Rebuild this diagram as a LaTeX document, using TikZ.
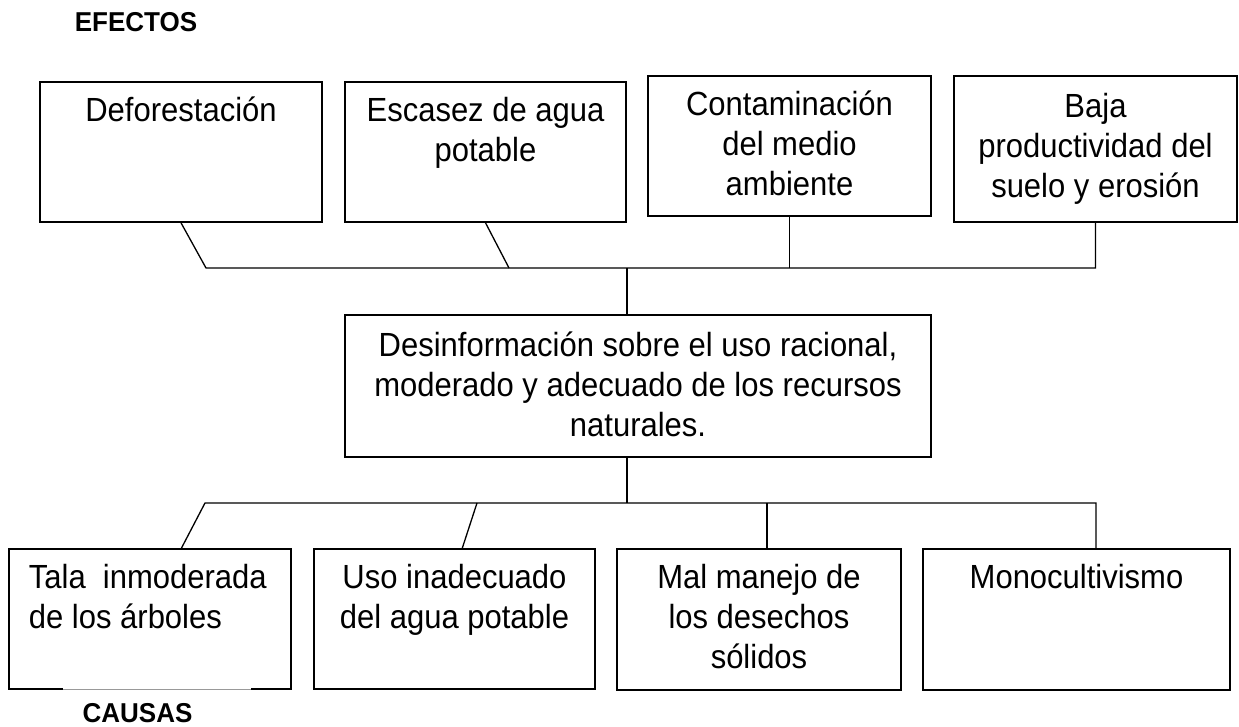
\documentclass[tikz,border=0pt]{standalone}
\usepackage{fontspec}
\usepackage{graphicx}
\setmainfont{Liberation Sans}
\usetikzlibrary{calc}
\newcommand\vtxtc[2]{\scalebox{1}[1.08]{\parbox[t]{#1}{\centering\strut #2}}}
\newcommand\vtxtl[2]{\scalebox{1}[1.08]{\parbox[t]{#1}{\raggedright\strut #2}}}
\begin{document}
\begin{tikzpicture}[x=1pt,y=-1pt,
  boxst/.style={draw=black, line width=1.6pt, inner sep=0pt},
  txt/.style={font=\fontsize{31}{37}\selectfont, inner sep=0pt, anchor=north},
  txtl/.style={font=\fontsize{31}{37}\selectfont, inner sep=0pt, anchor=north west},
  head/.style={font=\bfseries\fontsize{26}{30}\selectfont, inner sep=0pt, anchor=base},
  con/.style={line width=1.3pt, line join=miter}]
\useasboundingbox (0,0) rectangle (1239,727);

% headings
\node[head] (efectos) at (136,32) {\scalebox{1}[1.05]{EFECTOS}};
\node[head] (causas) at (137.5,722) {\scalebox{1}[1.05]{CAUSAS}};

% top boxes
\node[boxst, minimum width=282pt, minimum height=140pt] (T1) at (181,152) {};
\node[boxst, minimum width=281pt, minimum height=140pt] (T2) at (485.5,152) {};
\node[boxst, minimum width=283pt, minimum height=140pt] (T3) at (789.5,146) {};
\node[boxst, minimum width=283pt, minimum height=146pt] (T4) at (1095.5,149) {};
\node[txt] (T1t) at ($(T1.north)+(0,12.5)$) {\vtxtc{276pt}{Deforestación}};
\node[txt] (T2t) at ($(T2.north)+(0,12.5)$) {\vtxtc{276pt}{Escasez de agua\\potable}};
\node[txt] (T3t) at ($(T3.north)+(0,12)$) {\vtxtc{276pt}{Contaminación\\del medio\\ambiente}};
\node[txt] (T4t) at ($(T4.north)+(0,14)$) {\vtxtc{276pt}{Baja\\productividad del\\suelo y erosión}};

% middle box
\node[boxst, minimum width=586pt, minimum height=142pt] (M) at (638,386) {};
\node[txt] (Mt) at ($(M.north)+(0,14)$) {\vtxtc{580pt}{Desinformación sobre el uso racional,\\moderado y adecuado de los recursos\\naturales.}};

% bottom boxes
\node[boxst, minimum width=282pt, minimum height=140pt] (B1) at (150,619) {};
\node[boxst, minimum width=281pt, minimum height=140pt] (B2) at (454.5,619) {};
\node[boxst, minimum width=284pt, minimum height=141pt] (B3) at (759,619.5) {};
\node[boxst, minimum width=307pt, minimum height=141pt] (B4) at (1076.5,619.5) {};
\node[txtl] (B1t) at ($(B1.north west)+(20.5,12.5)$) {\vtxtl{258pt}{Tala\ \ inmoderada\\de los árboles}};
\node[txt] (B2t) at ($(B2.north)+(0,12.5)$) {\vtxtc{276pt}{Uso inadecuado\\del agua potable}};
\node[txt] (B3t) at ($(B3.north)+(0,12.5)$) {\vtxtc{276pt}{Mal manejo de\\los desechos\\sólidos}};
\node[txt] (B4t) at ($(B4.north)+(0,12.5)$) {\vtxtc{300pt}{Monocultivismo}};

% lighter part of B1 bottom edge
\draw[white, line width=2.2pt] (63,689) -- (251,689);
\draw[gray!80, line width=0.8pt] (63,689) -- (251,689);

% top connectors
\coordinate (tL) at (206,268);
\coordinate (tR) at (1095.5,268);
\coordinate (t2) at (509,268);
\coordinate (mt) at ($(M.north)+(-11,0)$);
\draw[con] (T1.south) -- (tL) -- (tR) -- (T4.south);
\draw[con] (T2.south) -- (t2);
\draw[con] (T3.south) -- (T3.south |- tL);
\draw[con] (mt) -- (mt |- tL);

% bottom connectors
\coordinate (bL) at (205,503);
\coordinate (bR) at (1096,503);
\coordinate (b1t) at (181,549);
\coordinate (b4t) at (1096,549);
\coordinate (b2t) at (462,549);
\coordinate (b2u) at (477,503);
\coordinate (b3t) at (767,549);
\coordinate (mb) at ($(M.south)+(-11,0)$);
\draw[con] (b1t) -- (bL) -- (bR) -- (b4t);
\draw[con] (b2t) -- (b2u);
\draw[con] (b3t) -- (b3t |- bL);
\draw[con] (mb) -- (mb |- bL);
\end{tikzpicture}
\end{document}
